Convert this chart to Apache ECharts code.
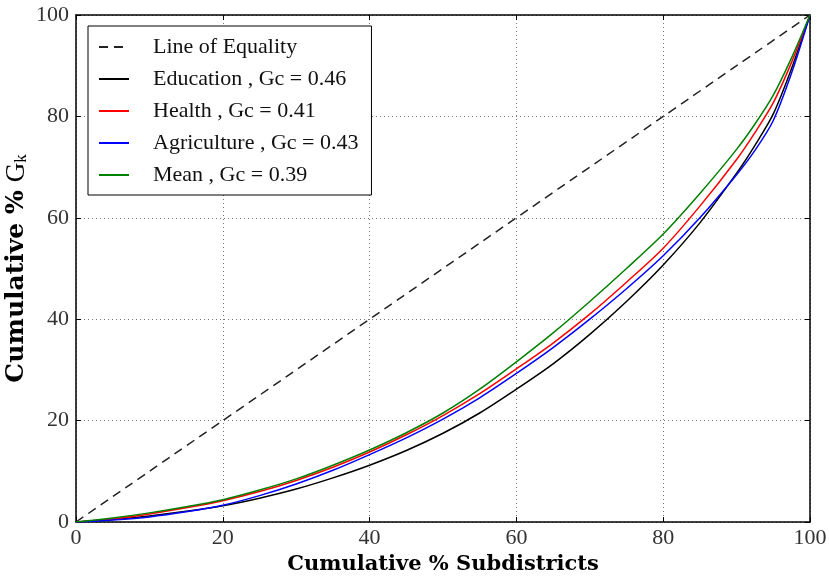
<!DOCTYPE html>
<html>
<head>
<meta charset="utf-8">
<script src="https://cdn.jsdelivr.net/npm/echarts@6/dist/echarts.min.js"></script>
<style>
  html, body { margin: 0; padding: 0; background: #fff; }
  #chart { width: 829px; height: 581px; }
</style>
</head>
<body>
<div id="chart"></div>
<script>
// Cumulative share of subdistricts (x) and cumulative share of G_k (y), in percent
const cumSubdistricts = [0, 5, 10, 15, 20, 25, 30, 35, 40, 45, 50, 55, 60, 65, 70, 75, 80, 85, 90, 92.5, 95, 97.5, 100];
const education     = [0, 0.5, 1.2, 2.1, 3.2, 4.7, 6.5, 8.7, 11.2, 14.1, 17.5, 21.5, 26.2, 31.2, 37.0, 43.5, 50.7, 59.0, 68.8, 74.3, 80.5, 89.5, 100];
const health        = [0, 0.6, 1.6, 2.8, 4.2, 6.0, 8.2, 10.8, 13.8, 17.2, 21.0, 25.3, 30.2, 35.3, 41.0, 47.3, 54.0, 62.3, 71.5, 76.8, 82.7, 90.7, 100];
const agriculture   = [0, 0.4, 1.0, 2.0, 3.3, 5.2, 7.5, 10.2, 13.3, 16.6, 20.3, 24.5, 29.3, 34.4, 40.0, 46.0, 52.5, 60.0, 68.5, 73.3, 79.2, 88.6, 100];
const mean          = [0, 0.8, 1.8, 3.0, 4.4, 6.3, 8.5, 11.2, 14.2, 17.6, 21.5, 26.2, 31.6, 37.3, 43.5, 50.0, 56.8, 64.8, 73.5, 78.5, 84.2, 91.6, 100];

// Line of perfect equality: end points only
const equalityX = [0, 100];
const equalityY = [0, 100];

const seriesNames = [
  'Line of Equality',
  'Education , Gc = 0.46',
  'Health , Gc = 0.41',
  'Agriculture , Gc = 0.43',
  'Mean , Gc = 0.39'
];
const axisTicks = [0, 20, 40, 60, 80, 100];

const SERIF = '"Liberation Serif", "DejaVu Serif", serif';
const SERIF_BOLD = '"DejaVu Serif", "Liberation Serif", serif';

function pairs(xs, ys) {
  return xs.map((x, i) => [x, ys[i]]);
}

function curve(name, xs, ys, color, dashed) {
  return {
    name: name,
    type: 'line',
    data: pairs(xs, ys),
    symbol: 'none',
    smooth: 0.3,
    lineStyle: { color: color, width: 1.5, type: dashed ? [9, 6] : 'solid' },
    itemStyle: { color: color },
    emphasis: { disabled: true },
    silent: true,
    animation: false
  };
}

const frameLine = { show: true, onZero: false, lineStyle: { color: '#000', width: 1.5 } };
const innerTick = { show: true, inside: true, length: 5, lineStyle: { color: '#000', width: 1 } };
const gridDots = { show: true, lineStyle: { color: '#777', width: 1, type: [1, 3] } };

const chart = echarts.init(document.getElementById('chart'), null, { renderer: 'canvas' });

chart.setOption({
  backgroundColor: '#fff',
  animation: false,
  grid: { left: 76, right: 19, top: 15, bottom: 59, containLabel: false, outerBoundsMode: 'none' },
  legend: {
    orient: 'vertical',
    left: 88,
    top: 26,
    padding: [10, 13, 9, 10],
    itemGap: 10,
    itemWidth: 30,
    itemHeight: 14,
    backgroundColor: '#fff',
    borderColor: '#000',
    borderWidth: 1,
    borderRadius: 0,
    itemStyle: { opacity: 0 },
    data: seriesNames,
    formatter: name => '{t|' + name + '}',
    textStyle: {
      fontFamily: SERIF,
      fontSize: 22,
      color: '#111',
      rich: { t: { fontFamily: SERIF, fontSize: 22, lineHeight: 20, padding: [0, 0, 0, 19], color: '#111' } }
    }
  },
  xAxis: [
    {
      type: 'value', position: 'bottom', min: 0, max: 100, interval: 20,
      name: 'Cumulative % Subdistricts',
      nameLocation: 'middle',
      nameGap: 32,
      nameMoveOverlap: false,
      nameTextStyle: { fontFamily: SERIF_BOLD, fontWeight: 'bold', fontSize: 21, color: '#000' },
      axisLine: frameLine,
      axisTick: innerTick,
      axisLabel: {
        fontFamily: SERIF, fontSize: 22, color: '#333', margin: 5,
        formatter: v => axisTicks.includes(v) ? String(v) : ''
      },
      splitLine: gridDots
    },
    {
      type: 'value', position: 'top', min: 0, max: 100, interval: 20,
      axisLine: frameLine, axisTick: innerTick,
      axisLabel: { show: false }, splitLine: { show: false }
    }
  ],
  yAxis: [
    {
      type: 'value', position: 'left', min: 0, max: 100, interval: 20,
      name: '{b|Cumulative %} {g|G}{k|k}',
      nameLocation: 'middle',
      nameGap: 46,
      nameMoveOverlap: false,
      nameRotate: 90,
      nameTextStyle: {
        fontFamily: SERIF_BOLD, fontSize: 25, color: '#000',
        rich: {
          b: { fontFamily: SERIF_BOLD, fontWeight: 'bold', fontSize: 25, color: '#000' },
          g: { fontFamily: SERIF, fontSize: 27, color: '#000' },
          k: { fontFamily: SERIF, fontSize: 17, color: '#000', padding: [10, 0, 0, 0] }
        }
      },
      axisLine: frameLine,
      axisTick: innerTick,
      axisLabel: {
        fontFamily: SERIF, fontSize: 22, color: '#333', margin: 7,
        formatter: v => axisTicks.includes(v) ? String(v) : ''
      },
      splitLine: gridDots
    },
    {
      type: 'value', position: 'right', min: 0, max: 100, interval: 20,
      axisLine: frameLine, axisTick: innerTick,
      axisLabel: { show: false }, splitLine: { show: false }
    }
  ],
  series: [
    curve(seriesNames[0], equalityX, equalityY, '#222', true),
    curve(seriesNames[1], cumSubdistricts, education, '#000', false),
    curve(seriesNames[2], cumSubdistricts, health, '#ff0000', false),
    curve(seriesNames[3], cumSubdistricts, agriculture, '#0000ff', false),
    curve(seriesNames[4], cumSubdistricts, mean, '#008000', false)
  ]
});
</script>
</body>
</html>
